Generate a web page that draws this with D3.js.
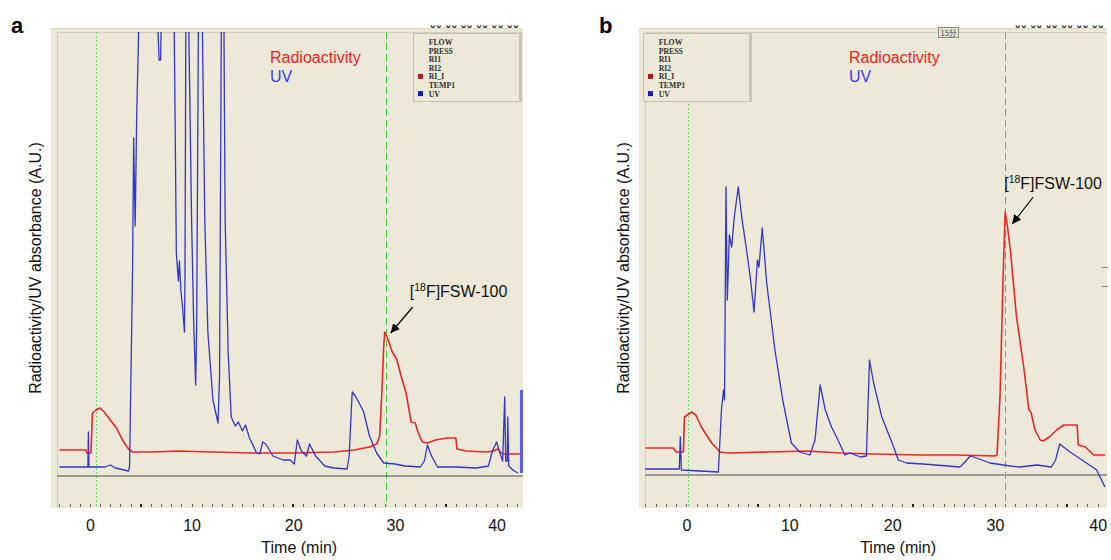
<!DOCTYPE html>
<html>
<head>
<meta charset="utf-8">
<script src="https://cdn.jsdelivr.net/npm/d3@7"></script>
<style>
  body { margin: 0; background: #fff; }
  svg { display: block; font-family: "Liberation Sans", Arial, sans-serif; }
</style>
</head>
<body>
<svg id="chart" width="1111" height="560"></svg>
<script>
// x axis
const timeTicks = [0, 10, 20, 30, 40]
const legendNames = ['FLOW', 'PRESS', 'RI1', 'RI2', 'RI_I', 'TEMP1', 'UV']
const traceNames = ['Radioactivity', 'UV']

// panel a: [time (min), signal (A.U.)]
const radioA = [
  [-3.0, 2.6], [-0.4, 2.6], [-0.3, 2.3], [0.1, 2.3], [0.25, 6.3], [0.6, 6.6], [1.0, 6.8], [1.4, 6.4],
  [2.0, 5.6], [2.6, 4.8], [3.2, 3.6], [3.8, 2.7], [4.2, 2.4], [6.0, 2.4], [8.8, 2.5], [12.0, 2.4],
  [16.0, 2.3], [20.0, 2.3], [24.0, 2.4], [26.0, 2.6], [27.5, 2.9], [28.2, 3.2], [28.5, 4.0], [28.7, 8.0],
  [28.9, 13.0], [29.0, 14.4], [29.2, 14.0], [29.7, 12.5], [30.2, 11.6], [30.6, 10.0], [31.1, 8.3],
  [31.6, 5.4], [32.0, 5.3], [32.3, 4.3], [32.7, 3.4], [33.2, 3.3], [34.0, 3.6], [35.1, 3.8], [36.0, 3.8],
  [36.1, 2.7], [37.0, 2.5], [39.0, 2.4], [39.7, 2.5], [40.1, 2.7], [40.6, 2.2], [42.3, 2.2]
]
const uvA = [
  [-3.0, 0.9], [-0.2, 0.9], [-0.15, 4.4], [-0.1, 0.9], [1.5, 0.9], [2.0, 1.1], [2.5, 0.8], [3.8, 0.5],
  [3.9, 1.0], [4.2, 21.0], [4.3, 33.8], [4.45, 25.0], [4.6, 36.0], [4.75, 42.6], [4.9, 50], [6.5, 50],
  [6.8, 41.6], [6.95, 41.6], [7.1, 50], [8.2, 50], [8.3, 44], [8.5, 22.3], [8.7, 19.5], [8.8, 21.5],
  [8.95, 18.5], [9.1, 17.0], [9.3, 14.4], [9.35, 20], [9.45, 50], [9.65, 50], [10.0, 25.6], [10.2, 15.6],
  [10.4, 9.1], [10.5, 15], [10.7, 50], [11.0, 50], [11.3, 25.6], [11.6, 14.4], [12.1, 7.6], [12.6, 5.3],
  [12.75, 10], [12.95, 50], [13.15, 50], [13.3, 25.6], [13.6, 12.3], [13.9, 5.9], [14.3, 5.0], [14.6, 5.4],
  [15.0, 4.5], [15.3, 5.1], [15.7, 3.8], [16.4, 2.3], [16.7, 2.2], [17.0, 3.4], [17.3, 3.2], [18.0, 2.0],
  [19.0, 1.6], [19.7, 1.6], [20.1, 1.2], [20.4, 3.6], [20.8, 2.5], [21.3, 2.0], [21.6, 3.2], [22.2, 2.0],
  [23.1, 1.0], [24.0, 0.8], [25.3, 0.7], [25.5, 2.0], [25.8, 8.4], [26.1, 8.0], [26.9, 6.5], [27.5, 4.0],
  [28.2, 2.3], [28.9, 1.3], [30.0, 1.2], [31.0, 1.0], [32.5, 0.9], [32.9, 1.5], [33.2, 3.1], [33.6, 2.0],
  [34.2, 0.9], [36.0, 0.9], [38.0, 0.8], [39.2, 1.0], [39.6, 2.5], [40.0, 3.4], [40.3, 2.4], [40.6, 1.5],
  [40.8, 7.9], [40.9, 1.5], [41.05, 1.5], [41.1, 5.9], [41.2, 1.0], [41.6, 0.6], [42.1, 0.3]
]
// detector overflow block at the end of run a: [t start, t end, height]
const uvTailA = [[42.3, 42.6, 8.6]]

// panel b
const radioB = [
  [-4.2, 2.7], [-1.3, 2.7], [-1.0, 2.3], [-0.3, 2.3], [-0.2, 5.8], [0.5, 6.3], [0.9, 6.0], [1.5, 4.7],
  [2.45, 3.2], [3.26, 2.3], [4.0, 2.2], [8.0, 2.3], [11.7, 2.4], [15.0, 2.2], [18.1, 2.1], [22.7, 2.0],
  [26.3, 2.0], [30.0, 1.9], [30.2, 2.0], [30.5, 8.0], [30.8, 20.0], [31.0, 26.3], [31.2, 25.0],
  [31.5, 22.5], [32.1, 15.8], [32.8, 10.8], [33.3, 6.5], [33.5, 6.3], [33.9, 4.5], [34.4, 3.5],
  [34.7, 3.4], [35.3, 3.8], [36.0, 4.5], [36.7, 5.0], [38.0, 5.0], [38.1, 3.0], [38.8, 2.8], [39.6, 2.0],
  [40.7, 2.0]
]
const uvB = [
  [-4.2, 0.6], [-0.7, 0.6], [-0.6, 3.8], [-0.5, 0.5], [3.1, 0.3], [3.4, 6.5], [3.6, 8.5], [3.7, 7.5],
  [3.84, 28.8], [3.97, 17.5], [4.17, 24.0], [4.4, 22.8], [4.65, 25.8], [5.04, 28.8], [5.37, 25.8],
  [5.8, 22.8], [6.2, 19.8], [6.57, 16.3], [6.9, 21.5], [7.05, 20.8], [7.37, 24.7], [7.8, 19.2],
  [8.6, 12.5], [9.36, 7.5], [10.2, 3.2], [11.0, 2.3], [12.0, 2.0], [12.5, 3.5], [13.0, 9.0], [13.5, 6.5],
  [14.1, 4.8], [14.6, 3.8], [15.4, 2.0], [15.9, 2.2], [16.9, 1.8], [17.5, 1.9], [17.8, 11.5], [18.2, 9.2],
  [19.0, 5.8], [20.0, 3.2], [20.6, 1.5], [21.4, 1.2], [23.0, 1.1], [26.6, 0.8], [27.0, 1.2], [27.6, 1.9],
  [28.5, 1.6], [29.5, 1.2], [31.5, 0.9], [32.4, 0.8], [34.1, 1.0], [35.5, 0.8], [35.9, 1.5], [36.3, 3.1],
  [37.3, 2.3], [38.9, 1.2], [39.9, 0.5], [40.7, -1.2]
]
const uvTailB = []

const panels = [
  {
    letter: 'a', x0: 51, x1: 523, domain: [-3.83, 42.6], base: 476, radio: radioA, uv: uvA, tail: uvTailA,
    dotted: 0.6, dashed: 29.1, majors: [5, 20, 35], legendX: 413, legendY: 33, textX: 270,
    baseColor: '#4a4a4a', baseWidth: 1, tip: [6, 1], tailPt: [28, -25], label: [25, -35],
    topMarks: [430, 523]
  },
  {
    letter: 'b', x0: 639, x1: 1107, domain: [-4.62, 40.9], base: 475, radio: radioB, uv: uvB, tail: uvTailB,
    dotted: 0.1, dashed: 31.0, majors: [7, 22, 37], legendX: 643, legendY: 33, textX: 849,
    baseColor: '#9a9a9a', baseWidth: 2, tip: [7, 12], tailPt: [28, -15], label: [-1, -23],
    topMarks: [1015, 1105]
  }
]

const plotTop = 28
const innerTop = 32
const plotBottom = 508

const svg = d3.select('#chart')
const defs = svg.append('defs')

defs.append('marker')
  .attr('id', 'arrow')
  .attr('viewBox', '0 0 10 10')
  .attr('refX', 10)
  .attr('refY', 5)
  .attr('markerWidth', 9)
  .attr('markerHeight', 9)
  .attr('markerUnits', 'userSpaceOnUse')
  .attr('orient', 'auto')
  .append('path')
  .attr('d', 'M0,0 L10,5 L0,10 z')
  .attr('fill', '#000')

const snap = (v) => Math.round(v) + 0.5

const drawPanel = (p) => {
  const x = d3.scaleLinear().domain(p.domain).range([p.x0, p.x1])
  const y = d3.scaleLinear().domain([0, 10]).range([p.base, p.base - 100])
  const g = svg.append('g').attr('class', 'panel-' + p.letter)

  // cut-off digits of the instrument header above the plot
  defs.append('clipPath').attr('id', 'head' + p.letter)
    .append('rect').attr('x', p.topMarks[0]).attr('y', 25.5)
    .attr('width', p.topMarks[1] - p.topMarks[0]).attr('height', 2.5)
  g.append('text')
    .attr('clip-path', `url(#head${p.letter})`)
    .attr('x', p.topMarks[0])
    .attr('y', 28)
    .attr('font-size', 10)
    .attr('font-weight', 'bold')
    .attr('fill', '#2a2a2a')
    .attr('letter-spacing', 0.5)
    .text('00 00 00   00 00 00')

  // plot background
  g.append('rect')
    .attr('x', p.x0).attr('y', plotTop)
    .attr('width', p.x1 - p.x0).attr('height', plotBottom - plotTop)
    .attr('fill', '#ece9d9')
  g.append('path')
    .attr('d', `M${p.x0 + 6.5},${plotBottom} V${innerTop + 0.5} H${p.x1}`)
    .attr('fill', 'none')
    .attr('stroke', '#d3cfbd')
  g.append('line')
    .attr('x1', p.x0).attr('x2', p.x1)
    .attr('y1', plotTop + 0.5).attr('y2', plotTop + 0.5)
    .attr('stroke', '#dcd9c8')

  // injection / product markers
  g.append('line')
    .attr('x1', snap(x(p.dotted))).attr('x2', snap(x(p.dotted)))
    .attr('y1', innerTop).attr('y2', plotBottom - 2)
    .attr('stroke', '#66dd66')
    .attr('stroke-dasharray', '2,2')
  g.append('line')
    .attr('x1', snap(x(p.dashed))).attr('x2', snap(x(p.dashed)))
    .attr('y1', innerTop).attr('y2', plotBottom - 2)
    .attr('stroke', '#3ccf3c')
    .attr('stroke-dasharray', '7,4')

  // zero line
  g.append('line')
    .attr('x1', p.x0 + 6).attr('x2', p.x1)
    .attr('y1', y(0)).attr('y2', y(0))
    .attr('stroke', p.baseColor)
    .attr('stroke-width', p.baseWidth)

  defs.append('clipPath').attr('id', 'clip' + p.letter)
    .append('rect').attr('x', p.x0 + 6).attr('y', innerTop)
    .attr('width', p.x1 - p.x0 - 6).attr('height', plotBottom - innerTop)

  const line = d3.line().x((d) => x(d[0])).y((d) => y(d[1]))
  const traces = g.append('g').attr('clip-path', `url(#clip${p.letter})`)

  traces.append('path')
    .datum(p.radio)
    .attr('d', line)
    .attr('fill', 'none')
    .attr('stroke', '#f02424')
    .attr('stroke-width', 1.6)
    .attr('stroke-linejoin', 'round')

  traces.append('path')
    .datum(p.uv)
    .attr('d', line)
    .attr('fill', 'none')
    .attr('stroke', '#3434c8')
    .attr('stroke-width', 1.3)
    .attr('stroke-linejoin', 'round')

  traces.selectAll('.tail')
    .data(p.tail)
    .enter()
    .append('rect')
    .attr('class', 'tail')
    .attr('x', (d) => x(d[0]))
    .attr('width', (d) => x(d[1]) - x(d[0]))
    .attr('y', (d) => y(d[2]))
    .attr('height', (d) => y(0.3) - y(d[2]))
    .attr('fill', '#5a5af0')

  // legend box from the instrument software
  const lg = g.append('g').attr('transform', `translate(${p.legendX},${p.legendY})`)
  lg.append('rect')
    .attr('x', 0.5).attr('y', 0.5)
    .attr('width', 108).attr('height', 68)
    .attr('fill', '#ece9d9')
    .attr('stroke', '#c4c0ae')
  lg.append('rect')
    .attr('x', 106).attr('y', 0)
    .attr('width', 3).attr('height', 69)
    .attr('fill', '#c8c5b8')
  const rows = lg.selectAll('.row')
    .data(legendNames)
    .enter()
    .append('g')
    .attr('transform', (d, i) => `translate(0,${9 + i * 8.6})`)
  rows.append('text')
    .attr('x', 17)
    .attr('dy', '0.35em')
    .attr('font-family', '"Liberation Serif", "DejaVu Serif", serif')
    .attr('font-size', 8.5)
    .attr('font-weight', 'bold')
    .attr('fill', '#2e2e2e')
    .attr('transform', 'scale(0.92,1)')
    .text((d) => d)
  rows.filter((d) => d === 'RI_I' || d === 'UV')
    .append('rect')
    .attr('x', 5).attr('y', -2.5)
    .attr('width', 5).attr('height', 5)
    .attr('fill', (d) => (d === 'UV' ? '#1a1aa8' : '#b01818'))

  // trace names
  g.selectAll('.trace-name')
    .data(traceNames)
    .enter()
    .append('text')
    .attr('class', 'trace-name')
    .attr('x', p.textX)
    .attr('y', (d, i) => 63 + i * 19)
    .attr('font-size', 16)
    .attr('fill', (d, i) => (i === 0 ? '#ff1a1a' : '#3c3cf2'))
    .text((d) => d)

  // product peak annotation
  const peak = d3.greatest(p.radio, (d) => d[1])
  const px = x(peak[0])
  const py = y(peak[1])
  g.append('line')
    .attr('x1', px + p.tailPt[0]).attr('y1', py + p.tailPt[1])
    .attr('x2', px + p.tip[0]).attr('y2', py + p.tip[1])
    .attr('stroke', '#000')
    .attr('stroke-width', 1.2)
    .attr('marker-end', 'url(#arrow)')
  const lab = g.append('text')
    .attr('x', px + p.label[0])
    .attr('y', py + p.label[1])
    .attr('font-size', 16)
    .attr('fill', '#111')
  lab.append('tspan').text('[')
  lab.append('tspan').attr('font-size', 10.5).attr('dy', -6).text('18')
  lab.append('tspan').attr('dy', 6).text('F]FSW-100')

  // minute ticks along the bottom edge
  const minutes = d3.range(Math.ceil(p.domain[0]), Math.floor(p.domain[1]) + 1)
  g.selectAll('.mtick')
    .data(minutes)
    .enter()
    .append('rect')
    .attr('class', 'mtick')
    .attr('x', (d) => Math.round(x(d)) - (p.majors.includes(d) ? 1 : 0))
    .attr('y', plotBottom - 4)
    .attr('width', (d) => (p.majors.includes(d) ? 2 : 1))
    .attr('height', 3)
    .attr('fill', (d) => (p.majors.includes(d) ? '#222' : '#666'))

  // axis labels
  const axis = d3.axisBottom(x).tickValues(timeTicks).tickSize(0).tickPadding(12)
  const ax = g.append('g').attr('transform', `translate(0,${plotBottom})`).call(axis)
  ax.select('.domain').remove()
  ax.selectAll('text')
    .attr('font-size', 16)
    .attr('font-family', '"Liberation Sans", Arial, sans-serif')
    .attr('fill', '#111')

  g.append('text')
    .attr('x', x(20) + 6)
    .attr('y', 553)
    .attr('text-anchor', 'middle')
    .attr('font-size', 16)
    .attr('fill', '#111')
    .text('Time (min)')

  g.append('text')
    .attr('transform', `translate(${p.x0 - 16},268) rotate(-90)`)
    .attr('dy', '0.35em')
    .attr('text-anchor', 'middle')
    .attr('font-size', 16)
    .attr('fill', '#111')
    .text('Radioactivity/UV absorbance (A.U.)')

  g.append('text')
    .attr('x', p.x0 - 40)
    .attr('y', 33)
    .attr('font-size', 22)
    .attr('font-weight', 'bold')
    .attr('fill', '#000')
    .text(p.letter)
}

panels.forEach(drawPanel)

// panel b extras: small time box in the header and the right-edge scale marks
const xb = d3.scaleLinear().domain(panels[1].domain).range([panels[1].x0, panels[1].x1])
const hdr = svg.append('g').attr('transform', `translate(${Math.round(xb(24.5))},27)`)
hdr.append('rect')
  .attr('x', 0.5).attr('y', 0.5)
  .attr('width', 20).attr('height', 10)
  .attr('fill', '#e6e3d4')
  .attr('stroke', '#8a8a8a')
hdr.append('text')
  .attr('x', 10.5).attr('y', 8.5)
  .attr('text-anchor', 'middle')
  .attr('font-size', 7.5)
  .attr('font-family', '"Noto Sans CJK SC", sans-serif')
  .attr('fill', '#444')
  .text('15分')
svg.selectAll('.edge-mark')
  .data([267, 286])
  .enter()
  .append('line')
  .attr('class', 'edge-mark')
  .attr('x1', 1102).attr('x2', 1108)
  .attr('y1', (d) => d + 0.5).attr('y2', (d) => d + 0.5)
  .attr('stroke', '#888')
</script>
</body>
</html>
